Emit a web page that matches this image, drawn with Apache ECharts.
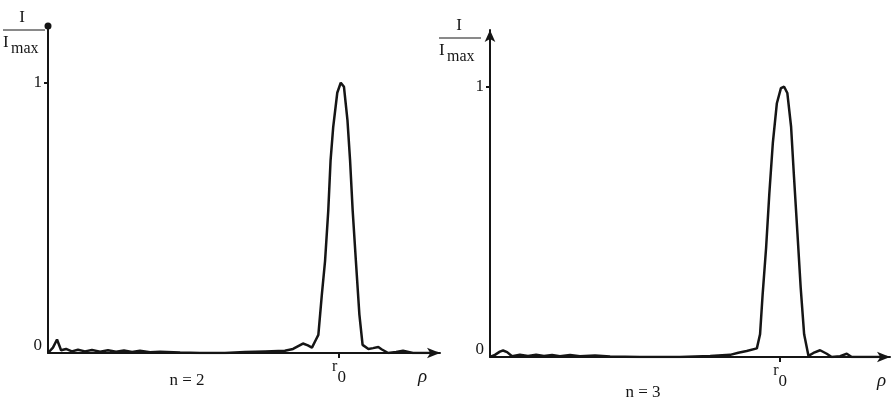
<!DOCTYPE html>
<html>
  <head>
    <meta charset="UTF-8">
    <title>I / Imax vs rho</title>
    <script src="https://cdn.jsdelivr.net/npm/echarts@6/dist/echarts.min.js"></script>
    <style>
    * {
      margin: 0;
      padding: 0;
    }
    body {
      background: #fff;
    }
    </style>
  </head>
  <body>
    <div id="main" style="width: 894px;height: 402px"></div>

    <script>
// rho in units of r0 (r0 = 1), intensity normalised to Imax
var rhoN2 = [0, 0.017, 0.031, 0.045, 0.062, 0.082, 0.103, 0.127, 0.151, 0.179, 0.206, 0.234, 0.261, 0.289,
  0.316, 0.351, 0.385, 0.454, 0.522, 0.608, 0.677, 0.746, 0.814, 0.842, 0.876, 0.893, 0.907, 0.921, 0.929,
  0.941, 0.952, 0.963, 0.971, 0.980, 0.994, 1.006, 1.017, 1.029, 1.038, 1.047, 1.058, 1.070, 1.081, 1.101,
  1.117, 1.135, 1.146, 1.169, 1.196, 1.220, 1.254, 1.340]
var intN2 = [0, 0.02, 0.05, 0.01, 0.015, 0.006, 0.012, 0.006, 0.011, 0.005, 0.01, 0.005, 0.009, 0.004,
  0.008, 0.003, 0.005, 0.002, 0, 0, 0.004, 0.006, 0.008, 0.015, 0.035, 0.028, 0.02, 0.05, 0.067,
  0.216, 0.34, 0.526, 0.713, 0.836, 0.963, 1.0, 0.985, 0.862, 0.713, 0.526, 0.34, 0.142, 0.03, 0.015,
  0.018, 0.022, 0.014, 0, 0.004, 0.008, 0, 0]

var rhoN3 = [0, 0.017, 0.034, 0.045, 0.059, 0.076, 0.103, 0.131, 0.159, 0.186, 0.214, 0.241, 0.276, 0.310,
  0.362, 0.414, 0.517, 0.655, 0.759, 0.828, 0.856, 0.885, 0.920, 0.931, 0.940, 0.952, 0.963, 0.975, 0.989,
  1.003, 1.014, 1.025, 1.038, 1.048, 1.060, 1.071, 1.083, 1.098, 1.115, 1.138, 1.161, 1.178, 1.207, 1.230,
  1.247, 1.370]
var intN3 = [0, 0.008, 0.02, 0.024, 0.018, 0.003, 0.008, 0.004, 0.008, 0.004, 0.007, 0.003, 0.007, 0.003,
  0.006, 0.002, 0, 0, 0.004, 0.008, 0.016, 0.022, 0.032, 0.084, 0.233, 0.406, 0.605, 0.791, 0.939,
  0.995, 1.0, 0.977, 0.852, 0.667, 0.456, 0.258, 0.084, 0.004, 0.015, 0.025, 0.012, 0, 0.003, 0.012,
  0, 0]

var panelCaptions = ['n = 2', 'n = 3']
var xTicks = [1]
var yLabels = [0, 1]
var xMax = [1.347, 1.379]
var yMax = 1.21

var ink = '#151515'
var serif = '"Liberation Serif", "DejaVu Serif", serif'

function pairs(xs, ys) {
  return xs.map((x, i) => [x, ys[i]])
}

function makeX(idx) {
  return {
    type: 'value',
    gridIndex: idx,
    min: 0,
    max: xMax[idx],
    name: 'ρ',
    nameLocation: 'end',
    nameGap: idx === 0 ? -22 : -13,
    nameTextStyle: {
      color: ink,
      fontFamily: serif,
      fontStyle: 'italic',
      fontSize: 19,
      verticalAlign: 'top',
      padding: [14, 0, 0, 0]
    },
    axisLine: {
      show: true,
      onZero: false,
      symbol: ['none', 'arrow'],
      symbolSize: [8, 13],
      lineStyle: { color: ink, width: 2 }
    },
    axisTick: { show: true, customValues: xTicks, length: 5, lineStyle: { color: ink, width: 2 } },
    axisLabel: {
      customValues: xTicks,
      margin: 6,
      formatter: () => '{r|r}{s|0}',
      rich: {
        r: { fontFamily: serif, fontSize: 16, color: ink, verticalAlign: 'top' },
        s: { fontFamily: serif, fontSize: 17, color: ink, padding: [10, 0, 0, 0] }
      }
    },
    splitLine: { show: false }
  }
}

function makeY(idx) {
  return {
    type: 'value',
    gridIndex: idx,
    min: 0,
    max: yMax,
    axisLine: {
      show: true,
      onZero: false,
      symbol: ['none', idx === 0 ? 'circle' : 'arrow'],
      symbolSize: idx === 0 ? [7, 7] : [8, 12],
      lineStyle: { color: ink, width: 2 }
    },
    axisTick: { show: true, customValues: [1], length: 4, lineStyle: { color: ink, width: 2 } },
    axisLabel: {
      customValues: yLabels,
      margin: 6,
      formatter: v => v === 0 ? '{z|0}' : '{o|1}',
      rich: {
        z: { fontFamily: serif, fontSize: 17, color: ink, padding: [0, 0, 14, 0] },
        o: { fontFamily: serif, fontSize: 17, color: ink }
      }
    },
    splitLine: { show: false }
  }
}

function fraction(cx, top, left) {
  var font17 = '17px ' + serif
  return [
    { type: 'text', x: cx, y: top, style: { text: 'I', font: font17, fill: ink, align: 'center', verticalAlign: 'middle' } },
    { type: 'line', shape: { x1: left, y1: top + 12, x2: left + 42, y2: top + 12 }, style: { stroke: ink, lineWidth: 1 } },
    { type: 'text', x: left, y: top + 25, style: { text: 'I', font: font17, fill: ink, verticalAlign: 'middle' } },
    { type: 'text', x: left + 8, y: top + 31, style: { text: 'max', font: '16px ' + serif, fill: ink, verticalAlign: 'middle' } }
  ]
}

var myChart = echarts.init(document.getElementById('main'), null, { renderer: 'canvas' })

var option = {
  backgroundColor: '#fff',
  animation: false,
  grid: [
    { left: 48, top: 26, width: 392, height: 327 },
    { left: 490, top: 30, width: 400, height: 327 }
  ],
  xAxis: [makeX(0), makeX(1)],
  yAxis: [makeY(0), makeY(1)],
  series: [{
    type: 'line',
    xAxisIndex: 0,
    yAxisIndex: 0,
    data: pairs(rhoN2, intN2),
    showSymbol: false,
    lineStyle: { color: ink, width: 2.5 }
  }, {
    type: 'line',
    xAxisIndex: 1,
    yAxisIndex: 1,
    data: pairs(rhoN3, intN3),
    showSymbol: false,
    lineStyle: { color: ink, width: 2.5 }
  }],
  graphic: [].concat(
    fraction(22, 18, 3),
    fraction(459, 26, 439),
    [
      { type: 'text', x: 187, y: 381, style: { text: panelCaptions[0], font: '17px ' + serif, fill: ink, align: 'center', verticalAlign: 'middle' } },
      { type: 'text', x: 643, y: 393, style: { text: panelCaptions[1], font: '17px ' + serif, fill: ink, align: 'center', verticalAlign: 'middle' } }
    ]
  )
}
myChart.setOption(option)
    </script>
  </body>
</html>
